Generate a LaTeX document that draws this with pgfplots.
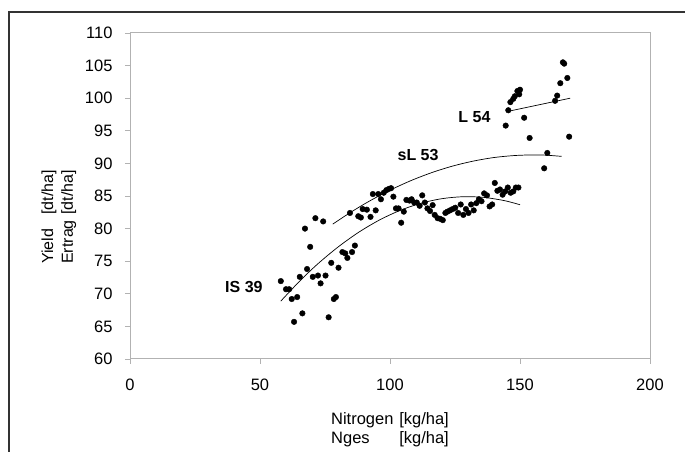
\documentclass[border=0pt]{standalone}
\usepackage{pgfplots}
\pgfplotsset{compat=1.18}
\usepackage{fontspec}
\setmainfont{Liberation Sans}
\begin{document}
\begin{tikzpicture}[x=1pt,y=1pt]
\path[use as bounding box] (0,0) rectangle (685,452);
\draw[line width=1.3pt, black!80] (9,-20) -- (9,440) -- (720,440);
\begin{axis}[
  at={(130pt,93pt)}, anchor=south west,
  scale only axis, width=520pt, height=326pt,
  xmin=0, xmax=200, ymin=60, ymax=110,
  xtick={0,50,100,150,200}, ytick={60,65,...,110},
  axis line style={gray!60, line width=1pt},
  tick style={gray!60, line width=0.8pt},
  tick align=outside, major tick length=5pt,
  xtick pos=bottom, ytick pos=left,
  /pgf/number format/assume math mode=true,
  tick label style={font=\fontsize{16.5}{18}\selectfont},
  yticklabel style={xshift=-9pt},
  xticklabel style={yshift=-11pt},
  every axis x label/.style={at={(axis cs:100,60)}, anchor=north, yshift=-49pt},
  every axis y label/.style={at={([xshift=-71pt]rel axis cs:0,0.436)}, rotate=90, anchor=center},
  xlabel={\fontsize{16.5}{19}\selectfont\begin{tabular}{@{}l@{\hspace{0.35em}}l@{}}Nitrogen & [kg/ha]\\ Nges & [kg/ha]\end{tabular}},
  ylabel={\fontsize{16}{20}\selectfont\begin{tabular}{@{}l@{\hspace{0.35em}}l@{}}Yield & [dt/ha]\\ Ertrag & [dt/ha]\end{tabular}},
  clip=false,
]
\addplot[only marks, mark=*, mark size=2.8pt, black] table {
x y
58.0 71.95
60.0 70.7
61.2 70.7
62.2 69.2
64.3 69.5
63.1 65.7
65.3 72.6
66.3 67.0
67.3 80.0
68.1 73.8
69.3 77.2
70.3 72.6
71.3 81.6
72.3 72.8
73.3 71.6
74.3 81.1
75.2 72.8
76.4 66.4
77.4 74.75
78.4 69.2
79.2 69.5
80.2 74.0
81.7 76.4
82.8 76.2
83.6 75.5
84.6 82.4
85.4 76.4
86.5 77.4
87.8 81.9
88.8 81.7
89.5 83.0
91.1 82.9
92.5 81.8
93.4 85.3
94.5 82.8
95.5 85.3
96.5 84.5
97.6 85.5
98.6 85.9
99.6 86.1
100.4 86.2
101.3 84.9
102.3 83.1
103.3 83.1
104.3 80.9
105.3 82.6
106.3 84.4
107.5 84.3
108.3 84.5
109.3 84.0
110.3 84.0
111.4 83.5
112.4 85.1
113.4 84.0
114.4 83.1
115.4 82.7
116.4 83.6
117.2 82.1
118.3 81.6
119.3 81.5
120.3 81.3
121.3 82.4
122.1 82.6
123.1 82.8
124.1 83.0
125.1 83.2
126.2 82.4
127.2 83.7
128.2 82.1
129.2 83.0
130.2 82.4
131.2 83.7
132.2 82.8
133.2 83.9
134.2 84.5
135.2 84.2
136.2 85.4
137.3 85.1
138.3 83.4
139.3 83.7
140.3 87.0
141.3 85.8
142.3 86.0
143.3 85.2
144.3 85.7
145.3 86.3
146.4 85.5
147.4 85.7
148.4 86.3
149.4 86.3
144.5 95.8
145.5 98.15
146.3 99.4
147.4 99.9
148.0 100.3
149.0 101.1
149.7 100.6
150.0 101.3
151.6 97.0
153.7 93.9
159.3 89.25
160.5 91.6
163.5 99.6
164.3 100.4
165.5 102.3
166.5 105.5
167.0 105.3
168.2 103.1
168.9 94.1
};
% IS 39 trend
\addplot[black, line width=0.7pt, smooth] coordinates {
(58,68.88) (65,71.84) (72,74.51) (80,77.17) (88,79.45) (96,81.33) (104,82.81)
(112,83.90) (120,84.59) (128,84.89) (136,84.79) (144,84.29) (150,83.66)};
% sL 53 trend
\addplot[black, line width=0.7pt, smooth] coordinates {
(78,80.69) (85,82.53) (92,84.20) (100,85.89) (108,87.35) (116,88.58) (124,89.58)
(132,90.35) (140,90.90) (148,91.21) (155,91.30) (160,91.26) (166,91.08)};
% L 54 trend
\addplot[black, line width=0.7pt] coordinates {(145.6,98.0) (169.3,100.0)};
\node[font=\fontsize{16}{18}\selectfont\bfseries] at (axis cs:43.8,71.0) {IS 39};
\node[font=\fontsize{16}{18}\selectfont\bfseries] at (axis cs:110.8,91.3) {sL 53};
\node[font=\fontsize{16}{18}\selectfont\bfseries] at (axis cs:132.5,97.1) {L 54};
\end{axis}
\end{tikzpicture}
\end{document}
